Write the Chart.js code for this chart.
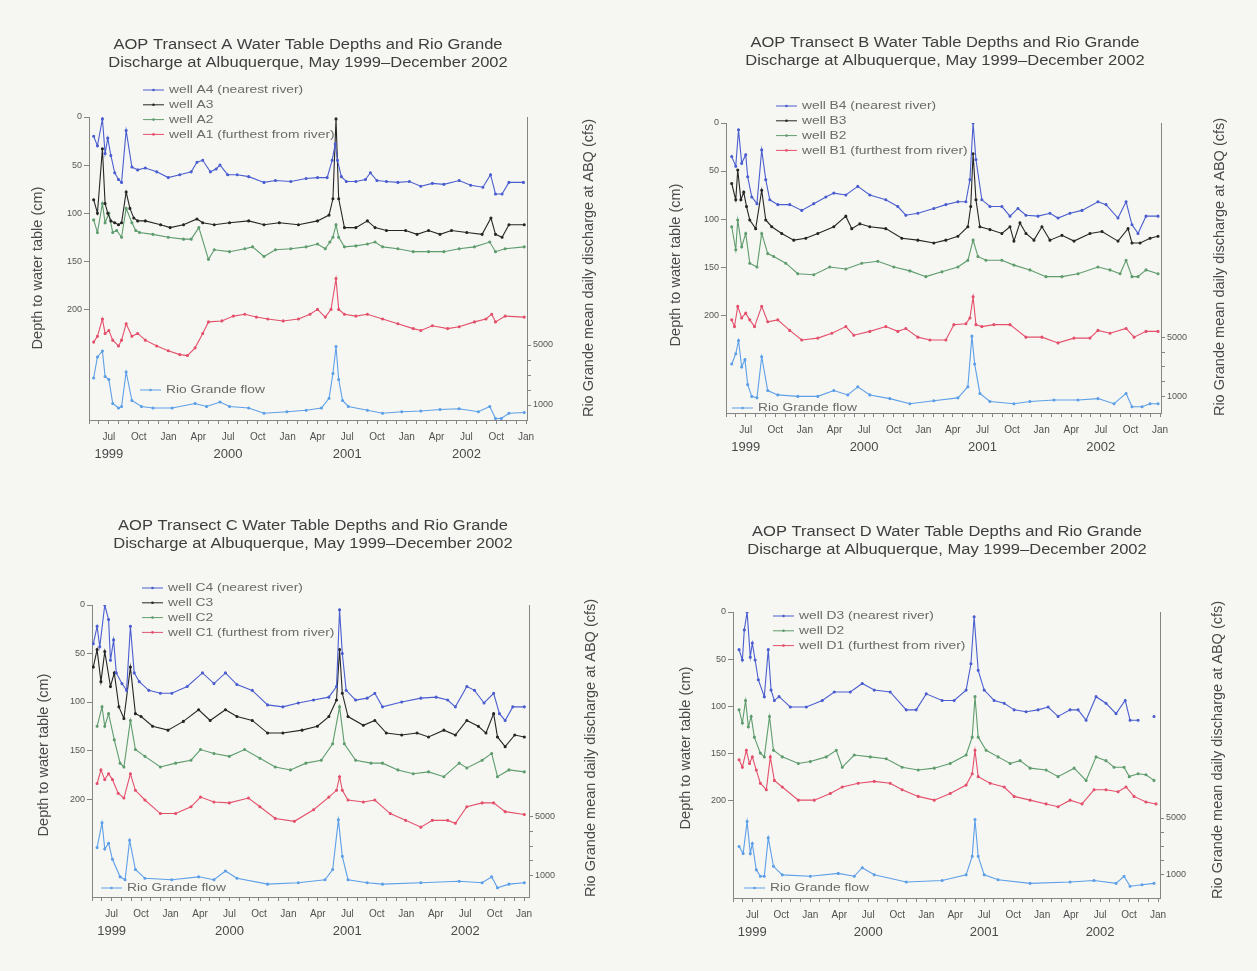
<!DOCTYPE html>
<html lang="en">
<head>
<meta charset="UTF-8">
<title>AOP Transect Water Table Depths and Rio Grande Discharge</title>
<style>
  body { margin: 0; background: #f6f7f2; width: 1257px; height: 971px; overflow: hidden; position: relative; }
  canvas { position: absolute; filter: blur(0.5px); }
</style>
<script src="https://cdn.jsdelivr.net/npm/chart.js@4.4.1/dist/chart.umd.min.js"></script>
</head>
<body>
<canvas id="chartA" width="628" height="485" style="left:0;top:0"></canvas>
<canvas id="chartB" width="629" height="485" style="left:628px;top:0"></canvas>
<canvas id="chartC" width="628" height="486" style="left:0;top:485px"></canvas>
<canvas id="chartD" width="629" height="486" style="left:628px;top:485px"></canvas>
<script>
// x values are months counted from Jan 1999 (4 = May 1999, 48 = Jan 2003)
// well values are depth to water table (cm), flow values are cfs

// ---- Transect A ----
const wellA4 = [[4.47,20],[4.85,30],[5.35,2],[5.62,38],[5.89,22],[6.20,40],[6.59,58],[6.97,65],[7.28,68],[7.74,14],[8.32,52],[8.90,55],[9.67,53],[10.82,57],[11.98,63],[13.14,60],[14.29,57],[14.87,47],[15.45,45],[16.22,57],[16.80,54],[17.19,50],[17.96,60],[18.92,60],[20.08,62],[21.62,68],[22.77,66],[24.32,67],[25.86,64],[27.01,63],[27.98,63],[28.48,45],[28.79,28],[29.02,45],[29.41,62],[29.91,67],[30.87,67],[31.83,65],[32.33,58],[32.99,66],[33.95,67],[35.10,68],[36.26,67],[37.41,72],[38.57,69],[39.73,70],[41.27,66],[42.43,71],[43.66,73],[44.43,60],[44.93,80],[45.59,80],[46.28,68],[47.74,68]];
const wellA3 = [[4.47,86],[4.85,100],[5.35,33],[5.62,90],[5.89,100],[6.20,108],[6.59,110],[6.97,112],[7.28,110],[7.74,78],[8.12,95],[8.51,105],[8.90,108],[9.67,108],[11.21,112],[12.17,115],[13.52,112],[14.87,106],[15.45,110],[16.61,112],[18.15,110],[20.08,108],[21.62,112],[23.16,110],[25.09,112],[27.01,108],[28.17,102],[28.56,85],[28.87,2],[29.14,85],[29.72,115],[30.87,115],[32.03,108],[32.80,115],[33.95,118],[35.88,118],[37.03,122],[38.19,118],[39.34,122],[40.50,118],[42.04,120],[43.58,122],[44.47,105],[44.93,122],[45.59,125],[46.28,112],[47.82,112]];
const wellA2 = [[4.47,107],[4.85,120],[5.35,90],[5.62,110],[6.00,100],[6.39,120],[6.78,118],[7.28,125],[7.74,95],[8.32,110],[8.71,118],[9.09,120],[10.44,122],[11.98,125],[13.52,127],[14.29,127],[15.06,115],[16.03,148],[16.61,138],[18.15,140],[19.69,137],[20.47,135],[21.62,145],[22.77,138],[24.32,137],[25.86,135],[27.01,132],[27.79,137],[28.25,130],[28.56,125],[28.87,112],[29.14,125],[29.72,135],[30.87,134],[32.03,132],[32.80,130],[33.56,135],[35.10,137],[36.64,140],[38.19,140],[39.73,140],[41.27,137],[42.81,135],[44.35,130],[44.93,140],[45.90,137],[47.82,135]];
const wellA1 = [[4.47,234],[4.85,228],[5.35,210],[5.62,225],[6.00,222],[6.39,232],[6.97,238],[7.28,232],[7.74,215],[8.32,228],[8.90,225],[9.67,232],[10.82,238],[11.98,243],[13.14,247],[13.91,248],[14.68,240],[15.45,225],[16.03,213],[17.38,212],[18.53,207],[19.69,205],[20.85,208],[22.00,210],[23.55,212],[25.09,210],[26.25,205],[27.01,200],[27.79,208],[28.37,200],[28.87,168],[29.14,200],[29.72,205],[30.87,207],[32.03,205],[33.56,210],[35.10,215],[36.64,220],[37.41,222],[38.57,217],[40.11,220],[41.27,218],[42.81,213],[43.97,210],[44.55,205],[44.93,213],[45.90,207],[47.82,208]];
const flowA = [[4.47,2800],[4.85,4200],[5.35,4600],[5.62,2900],[6.00,2700],[6.39,1100],[6.97,800],[7.28,900],[7.74,3200],[8.32,1300],[9.28,900],[10.44,800],[12.37,800],[14.68,1100],[15.84,900],[17.19,1200],[18.15,900],[20.08,800],[21.62,450],[23.93,550],[25.86,650],[27.40,800],[28.17,1450],[28.56,3100],[28.87,4900],[29.14,2700],[29.53,1300],[30.11,900],[32.03,650],[33.56,450],[35.49,550],[37.41,600],[39.34,700],[41.27,750],[43.20,550],[44.35,900],[44.93,100],[45.51,100],[46.28,450],[47.82,500]];

// ---- Transect B ----
const wellB4 = [[4.58,35],[4.99,45],[5.27,7],[5.59,42],[6.00,33],[6.20,56],[6.61,77],[7.14,84],[7.62,28],[8.03,59],[8.44,80],[9.25,85],[10.46,85],[11.68,91],[12.90,84],[14.12,77],[14.93,73],[16.15,75],[17.36,66],[18.58,75],[20.20,80],[21.42,87],[22.23,96],[23.45,94],[25.07,89],[26.29,85],[27.51,82],[28.32,82],[28.73,59],[29.05,0],[29.34,38],[29.94,80],[30.76,87],[31.97,87],[32.79,97],[33.60,89],[34.41,96],[35.63,97],[36.84,94],[37.66,99],[38.87,94],[40.09,91],[41.71,82],[42.53,85],[43.74,99],[44.56,82],[45.16,106],[45.77,115],[46.58,97],[47.80,97]];
const wellB3 = [[4.58,63],[4.99,80],[5.19,49],[5.51,80],[5.80,72],[6.08,87],[6.41,101],[7.01,110],[7.62,70],[8.03,101],[8.64,108],[9.65,115],[10.87,122],[12.09,120],[13.31,115],[14.93,108],[16.15,97],[16.75,110],[17.57,105],[18.58,108],[20.20,110],[21.83,120],[23.45,122],[25.07,125],[26.29,122],[27.51,118],[28.52,108],[28.81,87],[29.05,32],[29.34,80],[29.74,108],[30.76,111],[31.97,115],[32.79,108],[33.19,123],[33.80,104],[34.41,115],[35.22,122],[36.03,108],[36.84,122],[38.06,117],[39.28,123],[40.90,115],[42.12,113],[43.74,123],[44.76,110],[45.16,125],[45.98,125],[46.99,120],[47.80,118]];
const wellB2 = [[4.58,108],[4.99,132],[5.19,101],[5.59,129],[6.00,115],[6.41,146],[7.14,150],[7.62,115],[8.23,136],[8.84,139],[10.06,146],[11.28,157],[12.90,158],[14.52,150],[16.15,152],[17.77,146],[19.39,144],[21.02,150],[22.64,154],[24.26,160],[25.89,155],[27.51,150],[28.52,143],[29.05,122],[29.54,139],[30.35,143],[31.97,143],[33.19,148],[34.81,153],[36.44,160],[38.06,160],[39.69,157],[41.71,150],[42.93,153],[43.95,157],[44.56,143],[45.16,160],[45.77,160],[46.58,153],[47.80,157]];
const wellB1 = [[4.58,205],[4.86,212],[5.19,191],[5.59,203],[6.00,198],[6.41,205],[6.89,212],[7.62,191],[8.23,207],[9.25,205],[10.46,216],[11.68,226],[13.31,224],[14.73,219],[16.15,212],[16.96,221],[18.58,217],[20.20,212],[21.42,217],[22.23,214],[23.45,223],[24.67,226],[26.29,226],[27.10,210],[28.32,209],[28.73,203],[29.05,181],[29.34,210],[29.94,212],[31.16,210],[32.79,210],[34.41,223],[36.03,223],[37.66,229],[39.28,224],[40.90,224],[41.71,216],[42.93,219],[44.56,214],[45.37,223],[46.58,217],[47.80,217]];
const flowB = [[4.58,3200],[4.99,3900],[5.27,4800],[5.59,3000],[5.92,3500],[6.20,1800],[6.61,1000],[7.14,900],[7.62,3700],[8.23,1400],[9.25,1100],[11.28,1000],[13.31,1000],[14.93,1400],[16.35,1100],[17.36,1650],[18.58,1100],[20.61,850],[22.64,500],[25.07,700],[27.51,900],[28.52,1650],[28.93,5100],[29.21,3200],[29.74,1200],[30.76,650],[33.19,500],[34.81,650],[37.25,750],[39.69,750],[41.71,850],[43.34,500],[44.56,1200],[45.16,300],[46.18,300],[46.99,500],[47.80,500]];

// ---- Transect C ----
const wellC4 = [[4.13,40],[4.52,22],[4.79,43],[5.30,0],[5.69,15],[5.88,57],[6.20,36],[6.47,70],[7.05,81],[7.52,88],[7.91,22],[8.30,70],[8.81,79],[9.78,88],[10.96,91],[12.13,91],[13.69,84],[15.25,70],[16.42,81],[17.59,70],[18.76,82],[20.32,88],[21.88,103],[23.44,105],[25.00,101],[26.56,98],[28.12,95],[28.90,84],[29.21,5],[29.49,50],[29.88,88],[30.85,98],[32.02,96],[32.80,91],[33.58,105],[35.54,100],[37.49,96],[39.05,95],[40.22,98],[41.00,105],[42.17,84],[42.95,88],[43.92,101],[44.90,91],[45.49,112],[46.07,119],[46.85,105],[48.02,105]];
const wellC3 = [[4.13,64],[4.52,46],[4.91,79],[5.30,48],[5.88,84],[6.27,70],[6.74,105],[7.25,117],[7.91,64],[8.42,112],[9.00,115],[10.17,125],[11.74,129],[13.30,120],[14.86,108],[16.03,119],[17.59,108],[18.76,115],[20.32,119],[21.88,132],[23.44,132],[25.39,129],[26.95,125],[28.12,115],[28.90,98],[29.21,46],[29.49,91],[30.07,115],[31.63,124],[32.80,119],[33.97,132],[35.54,134],[37.10,132],[38.27,136],[39.83,129],[41.00,134],[42.17,119],[43.34,125],[44.12,132],[44.90,112],[45.29,136],[46.07,146],[47.05,134],[48.02,136]];
const wellC2 = [[4.52,125],[5.02,105],[5.30,125],[5.69,112],[6.27,139],[6.86,163],[7.25,167],[7.91,119],[8.42,149],[9.39,156],[10.96,167],[12.52,163],[14.08,160],[15.05,149],[16.42,153],[17.98,156],[19.54,149],[21.10,158],[22.66,167],[24.22,170],[25.78,163],[27.34,160],[28.51,143],[29.21,105],[29.69,143],[30.85,160],[32.41,163],[33.58,163],[35.15,170],[36.71,174],[38.27,172],[39.83,177],[41.39,163],[42.17,168],[43.73,160],[44.70,153],[45.29,177],[46.46,170],[48.02,172]];
const wellC1 = [[4.52,184],[4.91,170],[5.30,180],[5.69,174],[6.08,180],[6.66,194],[7.25,199],[7.91,174],[8.42,191],[9.39,201],[10.96,215],[12.52,215],[14.08,208],[15.05,198],[16.42,203],[17.98,204],[19.93,199],[21.10,208],[22.66,220],[24.61,223],[26.56,211],[28.12,198],[28.90,191],[29.21,177],[29.49,191],[30.07,201],[31.63,203],[32.80,201],[34.37,215],[35.93,222],[37.49,229],[38.66,222],[40.22,222],[41.00,225],[42.17,208],[43.73,204],[44.90,204],[46.07,213],[48.02,216]];
const flowC = [[4.52,2900],[5.02,4600],[5.30,2800],[5.69,3200],[6.08,2100],[6.86,900],[7.37,700],[7.83,3400],[8.42,1400],[9.39,800],[12.13,700],[14.86,900],[16.42,700],[17.59,1300],[18.76,800],[21.88,400],[25.00,500],[27.73,700],[28.51,1400],[29.09,4800],[29.49,2300],[30.07,700],[32.02,500],[33.58,400],[37.49,500],[41.39,600],[43.73,500],[44.70,900],[45.29,150],[46.46,400],[48.02,500]];

// ---- Transect D ----
const wellD3 = [[4.63,40],[4.97,51],[5.17,19],[5.46,0],[5.79,48],[6.00,33],[6.29,51],[6.62,72],[7.24,90],[7.65,40],[7.94,83],[8.28,94],[8.77,90],[9.93,101],[11.59,101],[13.24,94],[14.48,85],[16.14,85],[17.38,76],[18.62,83],[20.27,85],[21.93,104],[22.96,104],[24.00,87],[25.65,94],[26.89,94],[28.13,83],[28.63,55],[28.96,5],[29.38,62],[30.00,83],[31.03,94],[32.07,97],[33.10,104],[34.34,106],[35.58,104],[36.62,101],[37.65,111],[38.89,104],[39.72,104],[40.55,115],[41.58,90],[42.61,97],[43.65,108],[44.60,94],[45.10,115],[45.93,115],[46.70,null],[47.58,111]];
const wellD2 = [[4.63,104],[4.97,118],[5.30,94],[5.59,122],[5.88,111],[6.21,133],[6.83,150],[7.24,154],[7.78,111],[8.19,147],[9.10,154],[10.76,161],[12.00,159],[13.65,154],[14.69,147],[15.31,165],[16.55,152],[18.21,154],[19.86,156],[21.51,165],[23.17,168],[24.83,166],[26.48,161],[28.13,152],[28.76,133],[29.05,90],[29.38,133],[30.20,147],[31.44,154],[32.69,161],[33.72,158],[34.75,166],[36.41,168],[37.65,175],[39.31,166],[40.55,179],[41.58,154],[42.61,158],[43.44,165],[44.48,165],[45.02,175],[45.93,172],[46.75,173],[47.58,179]];
const wellD1 = [[4.63,157],[4.97,165],[5.38,147],[5.71,161],[6.00,154],[6.41,168],[6.83,182],[7.45,189],[7.86,154],[8.28,179],[9.10,186],[10.76,200],[12.41,200],[14.07,193],[15.31,186],[16.96,182],[18.62,180],[20.27,182],[21.51,189],[23.17,196],[24.83,200],[26.48,193],[28.13,184],[28.76,172],[29.05,147],[29.38,175],[30.62,182],[32.07,186],[33.10,196],[34.75,200],[36.41,204],[37.65,207],[38.89,200],[40.13,204],[41.37,189],[42.61,189],[43.86,191],[44.68,186],[45.51,196],[46.75,202],[47.79,204]];
const flowD = [[4.63,3000],[5.05,2500],[5.46,4750],[5.79,2500],[6.00,3200],[6.41,1350],[6.83,900],[7.24,900],[7.65,3600],[8.19,1600],[9.10,1000],[12.00,900],[14.90,1100],[16.55,900],[17.38,1500],[18.62,1000],[21.93,500],[25.65,600],[28.13,1000],[28.76,2300],[29.05,4900],[29.38,2300],[30.00,1000],[31.44,650],[34.75,400],[38.89,500],[41.37,600],[43.65,400],[44.48,900],[45.10,200],[46.34,300],[47.58,400]];

// ---- axis ticks ----
const monthNames = ['Jan','Feb','Mar','Apr','May','Jun','Jul','Aug','Sep','Oct','Nov','Dec'];
const labelledMonths = [0, 3, 6, 9];
const yearLabels = ['1999', '2000', '2001', '2002'];
const yearTickMonths = [6, 18, 30, 42];
const depthTicks = [0, 50, 100, 150, 200];
const flowTicks = [1000, 2000, 3000, 4000, 5000];
const flowTickLabels = ['1000', '', '', '', '5000'];
const monthTicks = [];
for (let m = 4; m <= 48; m++) monthTicks.push(m);

const FONT = '"Liberation Sans", Arial, Helvetica, sans-serif';
Chart.defaults.font.family = FONT;
Chart.defaults.color = '#555';

const BLUE = '#4b5ed0', BLACK = '#262626', GREEN = '#5f9c6e', RED = '#e4506c', FLOW = '#5d9fe8';
const AXIS = '#858585';
const MONTH_AXIS_H = 24;

const panels = [
  { id: 'chartA', letter: 'A', wells: [wellA4, wellA3, wellA2, wellA1], flow: flowA,
    names: ['well A4 (nearest river)', 'well A3', 'well A2', 'well A1 (furthest from river)'],
    colors: [BLUE, BLACK, GREEN, RED],
    left: 89, top: 117, rightW: 101, bottomH: 65, xMax: 48.1, depthMax: 315, flowMin: 0, flowMax: 20200,
    titleX: 308, titleY: 45, legX: 143, legY: 90, flowLegX: 140, flowLegY: 390,
    ytX: 38, ytY: 268, y2X: 589, y2Y: 268 },
  { id: 'chartB', letter: 'B', wells: [wellB4, wellB3, wellB2, wellB1], flow: flowB,
    names: ['well B4 (nearest river)', 'well B3', 'well B2', 'well B1 (furthest from river)'],
    colors: [BLUE, BLACK, GREEN, RED],
    left: 98, top: 123, rightW: 96, bottomH: 72, xMax: 48.1, depthMax: 302, flowMin: -130, flowMax: 19600,
    titleX: 317, titleY: 43, legX: 148, legY: 106, flowLegX: 104, flowLegY: 408,
    ytX: 48, ytY: 265, y2X: 592, y2Y: 267 },
  { id: 'chartC', letter: 'C', wells: [wellC4, wellC3, wellC2, wellC1], flow: flowC,
    names: ['well C4 (nearest river)', 'well C3', 'well C2', 'well C1 (furthest from river)'],
    colors: [BLUE, BLACK, GREEN, RED],
    left: 92, top: 120, rightW: 99, bottomH: 74, xMax: 48.5, depthMax: 301, flowMin: -480, flowMax: 19500,
    titleX: 313, titleY: 41, legX: 142, legY: 103, flowLegX: 101, flowLegY: 403,
    ytX: 44, ytY: 270, y2X: 591, y2Y: 263 },
  { id: 'chartD', letter: 'D', wells: [wellD3, wellD2, wellD1], flow: flowD,
    names: ['well D3 (nearest river)', 'well D2', 'well D1 (furthest from river)'],
    colors: [BLUE, GREEN, RED],
    left: 105, top: 127, rightW: 97, bottomH: 73, xMax: 48.2, depthMax: 304, flowMin: -630, flowMax: 19500,
    titleX: 319, titleY: 47, legX: 145, legY: 131, flowLegX: 116, flowLegY: 403,
    ytX: 58, ytY: 263, y2X: 590, y2Y: 265 }
];

// text squeezed like the printed figure: wider than tall
function wideText(ctx, text, x, y, align, sx) {
  ctx.save();
  ctx.translate(x, y);
  ctx.scale(sx, 1);
  ctx.textAlign = align;
  ctx.fillText(text, 0, 0);
  ctx.restore();
}

function upText(ctx, text, x, y) {
  ctx.save();
  ctx.translate(x, y);
  ctx.rotate(-Math.PI / 2);
  ctx.textAlign = 'center';
  ctx.fillText(text, 0, 0);
  ctx.restore();
}

function legendRow(ctx, x, y, color, text) {
  ctx.strokeStyle = color;
  ctx.fillStyle = color;
  ctx.lineWidth = 1;
  ctx.beginPath();
  ctx.moveTo(x, y);
  ctx.lineTo(x + 21, y);
  ctx.stroke();
  ctx.beginPath();
  ctx.arc(x + 10.5, y, 1.3, 0, Math.PI * 2);
  ctx.fill();
  ctx.fillStyle = '#6a6a6a';
  wideText(ctx, text, x + 26, y, 'left', 1.2);
}

const panelText = {
  id: 'panelText',
  afterDraw(chart) {
    const p = panels.find(q => q.id === chart.canvas.id);
    const ctx = chart.ctx;
    ctx.save();
    ctx.textBaseline = 'middle';

    ctx.fillStyle = '#3e3e3e';
    ctx.font = '14px ' + FONT;
    wideText(ctx, 'AOP Transect ' + p.letter + ' Water Table Depths and Rio Grande', p.titleX, p.titleY, 'center', 1.18);
    wideText(ctx, 'Discharge at Albuquerque, May 1999\u2013December 2002', p.titleX, p.titleY + 18, 'center', 1.18);

    ctx.font = '11.5px ' + FONT;
    p.names.forEach((t, i) => legendRow(ctx, p.legX, p.legY + i * 14.8, p.colors[i], t));
    legendRow(ctx, p.flowLegX, p.flowLegY, FLOW, 'Rio Grande flow');

    ctx.fillStyle = '#4a4a4a';
    ctx.font = '14.5px ' + FONT;
    upText(ctx, 'Depth to water table (cm)', p.ytX, p.ytY);
    upText(ctx, 'Rio Grande mean daily discharge at ABQ (cfs)', p.y2X, p.y2Y);
    ctx.restore();
  }
};

function line(points, label, color, axis) {
  return {
    label: label,
    data: points.map(pt => ({ x: pt[0], y: pt[1] })),
    yAxisID: axis,
    borderColor: color,
    backgroundColor: color,
    borderWidth: 1.1,
    pointRadius: 1,
    pointHoverRadius: 0,
    tension: 0,
    spanGaps: false
  };
}

panels.forEach(p => {
  const datasets = p.wells.map((w, i) => line(w, p.names[i], p.colors[i], 'y'));
  datasets.push(line(p.flow, 'Rio Grande flow', FLOW, 'y1'));

  new Chart(document.getElementById(p.id), {
    type: 'line',
    data: { datasets: datasets },
    options: {
      responsive: false,
      animation: false,
      events: [],
      layout: { padding: { top: p.top, left: 0, right: 0, bottom: 0 } },
      plugins: { legend: { display: false }, tooltip: { enabled: false } },
      scales: {
        x: {
          type: 'linear', position: 'bottom', weight: 0, min: 4, max: p.xMax,
          afterBuildTicks: s => { s.ticks = monthTicks.map(v => ({ value: v })); },
          afterFit: s => { s.height = MONTH_AXIS_H; },
          ticks: {
            autoSkip: false, maxRotation: 0, padding: 7, color: '#505050', font: { size: 10 },
            callback: v => labelledMonths.includes(v % 12) ? monthNames[v % 12] : ''
          },
          grid: { drawOnChartArea: false, tickLength: 4, tickColor: AXIS },
          border: { color: AXIS }
        },
        xYear: {
          type: 'linear', position: 'bottom', weight: 1, min: 4, max: p.xMax,
          afterBuildTicks: s => { s.ticks = yearTickMonths.map(v => ({ value: v })); },
          afterFit: s => { s.height = p.bottomH - MONTH_AXIS_H; },
          ticks: {
            // pulled up so the year sits just under the month row
            autoSkip: false, maxRotation: 0, padding: -5, color: '#4a4a4a', font: { size: 13 },
            callback: (v, i) => yearLabels[i]
          },
          grid: { display: false },
          border: { display: false }
        },
        y: {
          position: 'left', reverse: true, min: 0, max: p.depthMax,
          afterBuildTicks: s => { s.ticks = depthTicks.map(v => ({ value: v })); },
          afterFit: s => { s.width = p.left; },
          ticks: { padding: 2, color: '#555', font: { size: 9 } },
          grid: { drawOnChartArea: false, tickLength: 5, tickColor: AXIS },
          border: { color: AXIS }
        },
        y1: {
          position: 'right', min: p.flowMin, max: p.flowMax,
          afterBuildTicks: s => { s.ticks = flowTicks.map(v => ({ value: v })); },
          afterFit: s => { s.width = p.rightW; },
          ticks: { padding: 2, color: '#555', font: { size: 9 }, callback: (v, i) => flowTickLabels[i] },
          grid: { drawOnChartArea: false, tickLength: 4, tickColor: AXIS },
          border: { color: AXIS }
        }
      }
    },
    plugins: [panelText]
  });
});
</script>
</body>
</html>
